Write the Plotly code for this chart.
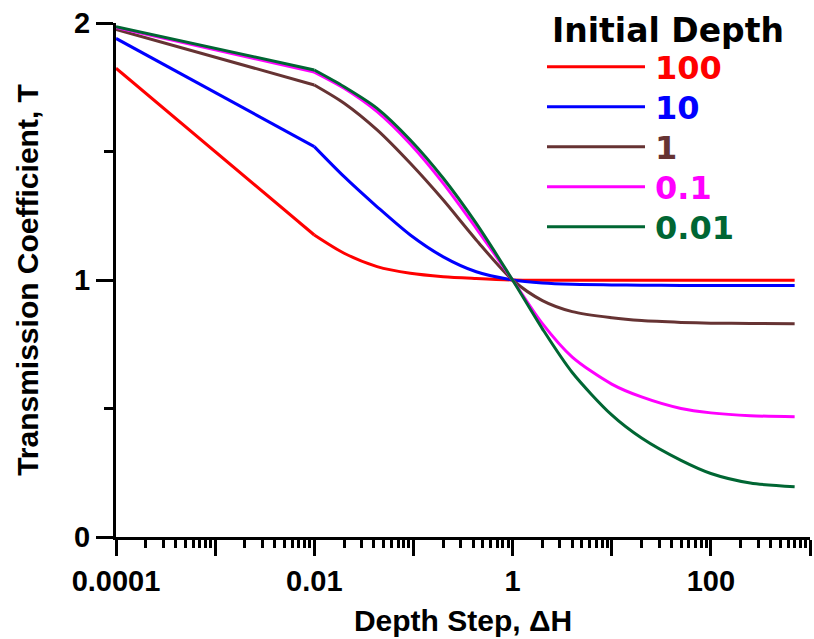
import plotly.graph_objects as go

# Depth step values (x)
depth_step = [0.0001, 0.01, 0.02, 0.043, 0.093, 0.2, 0.43, 1, 2, 4, 10, 20, 50, 100, 250, 700]

# Transmission coefficient for each initial depth
t_100 = [1.824, 1.175, 1.104, 1.052, 1.026, 1.013, 1.006, 1.000, 0.999, 0.999, 0.999, 0.999, 0.999, 0.999, 0.999, 0.999]
t_10 = [1.940, 1.519, 1.402, 1.285, 1.175, 1.090, 1.032, 1.000, 0.988, 0.983, 0.981, 0.980, 0.979, 0.979, 0.979, 0.979]
t_1 = [1.975, 1.759, 1.688, 1.584, 1.454, 1.311, 1.156, 1.000, 0.920, 0.877, 0.853, 0.842, 0.835, 0.832, 0.831, 0.830]
t_01 = [1.983, 1.809, 1.746, 1.655, 1.529, 1.376, 1.201, 1.000, 0.830, 0.700, 0.595, 0.545, 0.500, 0.483, 0.472, 0.468]
t_001 = [1.986, 1.817, 1.752, 1.668, 1.545, 1.396, 1.220, 1.000, 0.810, 0.640, 0.475, 0.385, 0.298, 0.247, 0.210, 0.196]

series_names = ["100", "10", "1", "0.1", "0.01"]
series_values = [t_100, t_10, t_1, t_01, t_001]
series_colors = ["#FF0000", "#0000FF", "#663333", "#FF00FF", "#006633"]

x_major = [1e-4, 1e-3, 1e-2, 1e-1, 1, 10, 100, 1000]
x_ticktext = ["0.0001", "", "0.01", "", "1", "", "100", ""]
x_minor = [k * 10.0 ** n for n in range(-4, 3) for k in range(2, 10)]
y_major = [0, 1, 2]
y_minor = [0.5, 1.5]

# plot area in pixels
PX_L, PX_R, PX_T, PX_B = 116, 810, 23, 537
W, H = 814, 639

def px_x(px):
    return (px - PX_L) / (PX_R - PX_L)

def px_y(py):
    return (PX_B - py) / (PX_B - PX_T)

fig = go.Figure()
for name, vals, col in zip(series_names, series_values, series_colors):
    # coarse first step drawn straight, the finely sampled rest drawn smooth
    fig.add_trace(go.Scatter(x=depth_step[:2], y=vals[:2], mode="lines", name=name,
                             line=dict(color=col, width=3), showlegend=False))
    fig.add_trace(go.Scatter(x=depth_step[1:], y=vals[1:], mode="lines", name=name,
                             line=dict(color=col, width=3, shape="spline", smoothing=0.8),
                             showlegend=False))

tick_font = dict(family="Liberation Sans", size=29, color="black", weight="bold")
title_font = dict(family="Liberation Sans", size=30, color="black", weight="bold")

fig.update_layout(
    width=W, height=H,
    margin=dict(l=PX_L, r=W - PX_R, t=PX_T, b=H - PX_B),
    plot_bgcolor="white", paper_bgcolor="white",
    xaxis=dict(
        type="log", range=[-4, 3], showgrid=False, zeroline=False, automargin=False,
        showline=True, linewidth=3, linecolor="black",
        ticks="outside", ticklen=16, tickwidth=3, tickcolor="black",
        tickmode="array", tickvals=x_major, ticktext=x_ticktext, tickfont=tick_font,
        minor=dict(tickmode="array", tickvals=x_minor, ticks="outside", ticklen=8,
                   tickwidth=2.5, tickcolor="black", showgrid=False),
        title=dict(text="Depth Step, ΔH", font=title_font, standoff=15),
    ),
    yaxis=dict(
        range=[0, 2], showgrid=False, zeroline=False, automargin=False,
        showline=True, linewidth=3, linecolor="black",
        ticks="outside", ticklen=17, tickwidth=3, tickcolor="black",
        tickmode="array", tickvals=y_major, tickfont=tick_font,
        minor=dict(tickmode="array", tickvals=y_minor, ticks="outside", ticklen=9,
                   tickwidth=3, tickcolor="black", showgrid=False),
        title=dict(text="Transmission Coefficient, T", font=title_font, standoff=27),
    ),
)

# Legend drawn manually
leg_font = "DejaVu Sans"
fig.add_annotation(x=px_x(550), y=px_y(31), xref="paper", yref="paper",
                   text="Initial Depth", showarrow=False, xanchor="left", yanchor="middle",
                   font=dict(family=leg_font, size=33, color="black", weight="bold"))
row_y = [66.7, 106.7, 146.7, 186.7, 226.7]
for name, col, ry in zip(series_names, series_colors, row_y):
    fig.add_shape(type="line", xref="paper", yref="paper",
                  x0=px_x(547), x1=px_x(645), y0=px_y(ry), y1=px_y(ry),
                  line=dict(color=col, width=3))
    fig.add_annotation(x=px_x(653), y=px_y(ry + 1), xref="paper", yref="paper",
                       text=name, showarrow=False, xanchor="left", yanchor="middle",
                       font=dict(family=leg_font, size=32, color=col, weight="bold"))

fig.write_html("out.html", config={"displayModeBar": False},
               post_script="document.body.style.margin='0px';")
